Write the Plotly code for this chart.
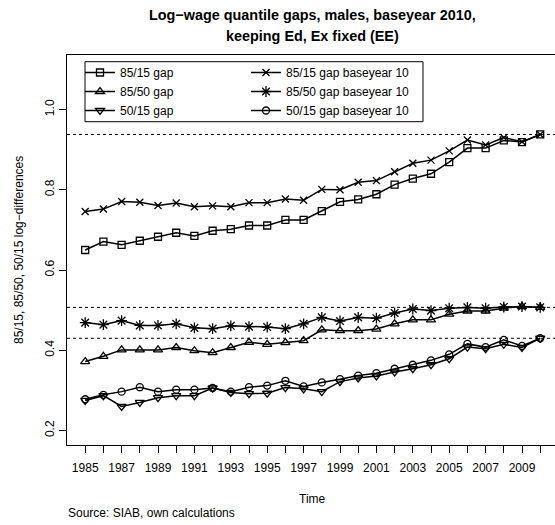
import plotly.graph_objects as go

years = list(range(1985, 2011))

gap_85_15 = [0.650, 0.671, 0.663, 0.673, 0.683, 0.693, 0.685, 0.698, 0.702, 0.711, 0.711, 0.725, 0.725,
             0.747, 0.770, 0.776, 0.789, 0.813, 0.828, 0.840, 0.869, 0.904, 0.904, 0.923, 0.919, 0.938]
gap_85_50 = [0.372, 0.385, 0.401, 0.401, 0.401, 0.407, 0.399, 0.394, 0.407, 0.420, 0.415, 0.419, 0.424,
             0.451, 0.449, 0.449, 0.453, 0.466, 0.476, 0.476, 0.490, 0.498, 0.498, 0.505, 0.509, 0.507]
gap_50_15 = [0.275, 0.287, 0.260, 0.270, 0.282, 0.287, 0.287, 0.306, 0.295, 0.292, 0.293, 0.307, 0.304,
             0.297, 0.322, 0.331, 0.336, 0.346, 0.354, 0.364, 0.379, 0.408, 0.404, 0.415, 0.407, 0.430]
base_85_15 = [0.746, 0.752, 0.771, 0.769, 0.761, 0.767, 0.758, 0.760, 0.758, 0.768, 0.768, 0.777, 0.774,
              0.801, 0.800, 0.819, 0.823, 0.845, 0.866, 0.874, 0.897, 0.924, 0.912, 0.930, 0.920, 0.938]
base_85_50 = [0.469, 0.464, 0.474, 0.462, 0.462, 0.466, 0.456, 0.454, 0.461, 0.459, 0.458, 0.454, 0.466,
              0.482, 0.473, 0.482, 0.480, 0.493, 0.503, 0.499, 0.505, 0.507, 0.505, 0.508, 0.509, 0.507]
base_50_15 = [0.278, 0.289, 0.297, 0.308, 0.297, 0.302, 0.302, 0.306, 0.297, 0.308, 0.312, 0.324, 0.310,
              0.320, 0.328, 0.337, 0.343, 0.354, 0.364, 0.375, 0.390, 0.416, 0.408, 0.426, 0.411, 0.430]

series_names = ["85/15 gap", "85/50 gap", "50/15 gap",
                "85/15 gap baseyear 10", "85/50 gap baseyear 10", "50/15 gap baseyear 10"]
y_ticks = [0.2, 0.4, 0.6, 0.8, 1.0]
y_tick_labels = ["0.2", "0.4", "0.6", "0.8", "1.0"]
x_tick_labels = [str(y) if y % 2 == 1 else "" for y in years]

FONT = "Liberation Sans, Arial, Helvetica, sans-serif"

fig = go.Figure()

styles = [
    (gap_85_15, "square-open", 7, "legend"),
    (gap_85_50, "triangle-up-open", 8, "legend"),
    (gap_50_15, "triangle-down-open", 8, "legend"),
    (base_85_15, "x-thin-open", 7, "legend2"),
    (base_85_50, "asterisk-open", 9, "legend2"),
    (base_50_15, "circle-open", 7, "legend2"),
]
for (vals, sym, sz, lg), name in zip(styles, series_names):
    fig.add_trace(go.Scatter(
        x=years, y=vals, name=name, mode="lines+markers",
        line=dict(color="black", width=1.5),
        marker=dict(symbol=sym, size=sz, color="black", line=dict(color="black", width=1.3)),
        legend=lg,
    ))

# reference lines at the 2010 values
for vals in (gap_85_15, gap_85_50, gap_50_15):
    fig.add_shape(type="line", xref="paper", x0=0, x1=1, yref="y", y0=vals[-1], y1=vals[-1],
                  line=dict(color="black", width=1, dash="3px,3px"), layer="below")

# legend frame
fig.add_shape(type="rect", xref="paper", yref="paper",
              x0=0.0369, x1=0.7295, y0=0.829, y1=0.9828,
              line=dict(color="black", width=1), fillcolor="rgba(0,0,0,0)")

W, H = 555, 525
L, T, B = 67, 55, 80
plot_h = H - T - B

def py(px):
    return (H - B - px) / plot_h

def pxx(px):
    return (px - L) / (W - L)

annots = [
    dict(text="<b>Log−wage quantile gaps, males, baseyear 2010,</b>", x=pxx(312.5), y=py(15.5),
         font=dict(size=14.4)),
    dict(text="<b>keeping Ed, Ex fixed (EE)</b>", x=pxx(312.5), y=py(36.5), font=dict(size=14.4)),
    dict(text="Time", x=pxx(312.5), y=py(498.5), font=dict(size=12)),
    dict(text="85/15, 85/50, 50/15 log−differences", x=pxx(19), y=0.5, textangle=-90,
         font=dict(size=12)),
]
for a in annots:
    fig.add_annotation(xref="paper", yref="paper", showarrow=False, xanchor="center",
                       yanchor="middle", **a)
fig.add_annotation(text="Source: SIAB, own calculations", xref="paper", yref="paper",
                   x=pxx(66), y=py(513), xanchor="left", yanchor="middle", showarrow=False,
                   font=dict(size=12))

fig.update_layout(
    width=W, height=H,
    margin=dict(l=L, r=0, t=T, b=B),
    paper_bgcolor="white", plot_bgcolor="white",
    font=dict(family=FONT, size=12, color="black"),
    showlegend=True,
    legend=dict(x=pxx(80), y=py(58), xanchor="left", yanchor="top",
                bgcolor="rgba(0,0,0,0)", borderwidth=0, font=dict(size=12),
                traceorder="normal", itemwidth=30),
    legend2=dict(x=pxx(246), y=py(58), xanchor="left", yanchor="top",
                 bgcolor="rgba(0,0,0,0)", borderwidth=0, font=dict(size=12),
                 traceorder="normal", itemwidth=30),
    xaxis=dict(range=[1984, 1984 + (W - L) / 18.2], tickvals=years, ticktext=x_tick_labels,
               showgrid=False, zeroline=False, showline=True, mirror=True, linecolor="black",
               linewidth=1, ticks="outside", ticklen=7, tickcolor="black", tickwidth=1,
               tickfont=dict(size=12), tickangle=0, ticklabelstandoff=5),
    yaxis=dict(range=[0.164, 1.136], tickvals=y_ticks, ticktext=y_tick_labels,
               showgrid=False, zeroline=False, showline=True, mirror=False, linecolor="black",
               linewidth=1, ticks="outside", ticklen=7, tickcolor="black", tickwidth=1,
               tickfont=dict(size=12), tickangle=-90),
)

fig.write_html("out.html")
